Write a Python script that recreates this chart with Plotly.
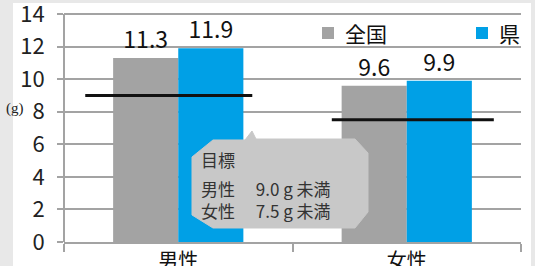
import plotly.graph_objects as go

# ---- data ----
categories = ["男性", "女性"]
national = [11.3, 9.6]          # 全国
prefecture = [11.9, 9.9]        # 県
targets = [9.0, 7.5]            # 目標 (g 未満)
series_names = ["全国", "県"]
series_colors = ["#a3a3a3", "#00a0e6"]
y_ticks = [0, 2, 4, 6, 8, 10, 12, 14]

# ---- geometry helpers (pixel -> paper) ----
W, H = 535, 266
L, R, T, B = 64, 521, 12, 242
Y_TOP = 14 * (B - T) / (B - 14)   # so that 14 sits at pixel row 14


def px(x):
    return (x - L) / (R - L)


def py(y):
    return (B - y) / (B - T)


FONT = "Noto Sans CJK JP"
GRID = "#a3a3a3"

fig = go.Figure()
for name, vals, col in [(series_names[0], national, series_colors[0]),
                        (series_names[1], prefecture, series_colors[1])]:
    fig.add_trace(go.Bar(
        x=categories, y=vals, name=name,
        marker=dict(color=col, line=dict(width=0)),
        text=[f"{v:.1f}" for v in vals], textposition="outside",
        textfont=dict(family=FONT, size=23, color="#111"),
        cliponaxis=False, constraintext="none", showlegend=False,
    ))

shapes = []
# white panel
shapes.append(dict(type="rect", xref="paper", yref="paper", layer="below",
                   x0=px(13), x1=px(531), y0=py(266), y1=py(3),
                   fillcolor="white", line=dict(width=0)))
# target lines
offsets = [(-0.407, 0.324), (-0.328, 0.381)]
for i, t in enumerate(targets):
    shapes.append(dict(type="line", xref="x", yref="y",
                       x0=i + offsets[i][0], x1=i + offsets[i][1], y0=t, y1=t,
                       line=dict(color="#111", width=3)))

# callout bubble
pts = [(192, 157), (213, 140), (245, 140), (252, 131), (256, 139), (355, 139),
       (368, 153), (368, 212), (355, 228), (213, 228), (192, 215)]
path = "M " + " L ".join(f"{px(x):.4f},{py(y):.4f}" for x, y in pts) + " Z"
shapes.append(dict(type="path", xref="paper", yref="paper", path=path,
                   fillcolor="#c8c8c8", line=dict(color="#c8c8c8", width=1)))

ann = []
cf = dict(family=FONT, size=17, color="#333")


def note(text, x, y, font=cf):
    ann.append(dict(text=text, xref="paper", yref="paper", x=px(x), y=py(y),
                    xanchor="left", yanchor="middle", showarrow=False, font=font,
                    borderpad=0, align="left"))


note("目標", 200, 159)
note(f"男性　 {targets[0]:.1f} g 未満<br>女性　 {targets[1]:.1f} g 未満", 200, 199)
ann.append(dict(text="(g)", xref="paper", yref="paper", x=px(15), y=py(108),
                xanchor="center", yanchor="middle", showarrow=False,
                font=dict(family="Liberation Serif", size=15, color="#222")))

# legend (custom, drawn as squares + text)
leg_x = [322, 476]
for name, col, x in zip(series_names, series_colors, leg_x):
    shapes.append(dict(type="rect", xref="paper", yref="paper",
                       x0=px(x), x1=px(x + 12), y0=py(39), y1=py(27),
                       fillcolor=col, line=dict(width=0)))
    note(name, x + 22, 33, font=dict(family=FONT, size=21, color="#111"))

fig.update_layout(
    width=W, height=H,
    margin=dict(l=L, r=W - R, t=T, b=H - B, pad=0, autoexpand=False),
    paper_bgcolor="#e8e8e8", plot_bgcolor="white",
    barmode="group", bargap=0.43, bargroupgap=0,
    shapes=shapes, annotations=ann,
    showlegend=False,
    xaxis=dict(type="category", range=[-0.5, 1.5], showgrid=False, automargin=False,
               showline=True, linecolor=GRID, linewidth=2,
               ticks="outside", tickson="boundaries", ticklen=8, tickcolor=GRID, tickwidth=2,
               tickfont=dict(family=FONT, size=20, color="#111"),
               ticklabeloverflow="allow"),
    yaxis=dict(range=[0, Y_TOP], tickvals=y_ticks, showgrid=True, gridcolor=GRID, gridwidth=2,
               zeroline=False, showline=False, automargin=False,
               ticks="outside", ticklen=6, tickcolor=GRID, tickwidth=2,
               ticklabelstandoff=8, ticklabeloverflow="allow",
               tickfont=dict(family=FONT, size=22, color="#222")),
)
# vertical axis line from 0 to 14 only
shapes.append(dict(type="line", xref="paper", yref="y", x0=0, x1=0, y0=0, y1=y_ticks[-1],
                   line=dict(color=GRID, width=2), layer="below"))
fig.update_layout(shapes=shapes)

fig.write_html("out.html", config={"displayModeBar": False},
               post_script="document.body.style.margin='0';document.body.style.overflow='hidden';")
